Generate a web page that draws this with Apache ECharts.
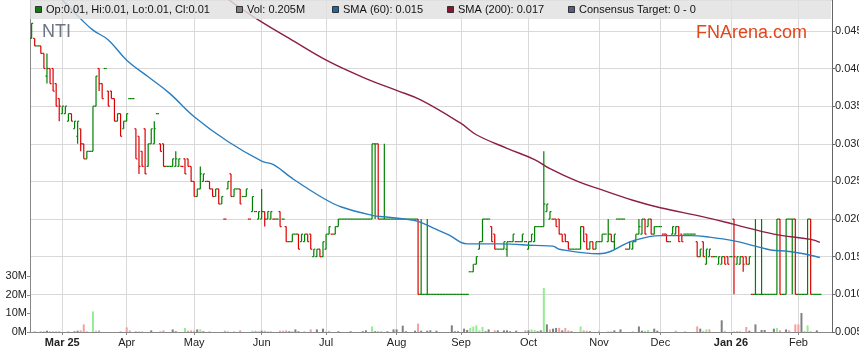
<!DOCTYPE html>
<html><head><meta charset="utf-8">
<script src="https://cdn.jsdelivr.net/npm/echarts@6/dist/echarts.min.js"></script>
<style>html,body{margin:0;padding:0;background:#fff}#c{width:859px;height:363px}</style>
</head><body><div id="c"></div><script>
// x position = weekday index counted from Mon 3 Mar 2025 (index 0)
const FIRST_DAY = -10; // Mon 17 Feb 2025
// [open, high, low, close] one entry per weekday from FIRST_DAY
const ohlc = [
[.044,.046,.044,.046],[.044,.044,.043,.043],[.043,.043,.043,.043],[.043,.043,.042,.042],[.042,.042,.040,.040],
[.039,.042,.038,.040],[.040,.040,.038,.038],[.040,.040,.037,.037],[.038,.038,.035,.035],[.036,.036,.033,.035],
// 0
[.034,.035,.034,.035],[.034,.035,.034,.035],[.033,.034,.033,.034],[.034,.034,.033,.033],[.032,.033,.032,.033],
[.031,.033,.030,.033],[.032,.032,.029,.030],[.030,.030,.028,.028],[.028,.029,.028,.029],[.029,.029,.029,.029],
// 10
[.029,.035,.029,.035],[.035,.039,.035,.039],[.040,.040,.037,.038],[.038,.038,.036,.036],[.040,.040,.040,.040],
[.037,.037,.035,.035],[.037,.037,.036,.036],[.036,.036,.033,.033],[.033,.034,.033,.034],[.034,.034,.031,.031],
// 20
[.032,.033,.032,.033],[.033,.034,.033,.034],[.036,.036,.036,.036],[.036,.036,.036,.036],[.032,.032,.028,.028],
[.031,.031,.026,.027],[.029,.029,.027,.027],[.032,.032,.026,.026],[.027,.030,.027,.030],[.030,.032,.030,.032],
// 30
[.030,.033,.030,.032],[.034,.034,.034,.034],[.030,.030,.029,.029],[.030,.030,.027,.027],[.027,.027,.027,.027],
[.027,.027,.027,.027],[.027,.028,.027,.028],[.027,.029,.027,.028],[.027,.028,.027,.028],[.027,.027,.027,.027],
// 40
[.028,.028,.026,.026],[.028,.028,.027,.027],[.027,.027,.025,.025],[.025,.025,.023,.023],[.023,.024,.023,.024],
[.024,.027,.024,.026],[.025,.026,.025,.026],[.025,.025,.025,.025],[.025,.025,.024,.024],[.024,.024,.023,.023],
// 50
[.023,.024,.023,.024],[.024,.024,.022,.022],[.022,.023,.022,.023],[.020,.020,.020,.020],[.024,.025,.024,.025],
[.026,.026,.023,.023],[.023,.024,.023,.024],[.024,.024,.024,.024],[.024,.024,.022,.022],[.023,.023,.023,.023],
// 60
[.023,.024,.023,.024],[.020,.020,.020,.020],[.021,.023,.021,.023],[.021,.021,.021,.021],[.020,.021,.020,.021],
[.020,.024,.020,.021],[.021,.021,.019,.020],[.020,.021,.020,.021],[.020,.021,.020,.021],[.020,.020,.020,.020],
// 70
[.020,.020,.020,.020],[.021,.021,.019,.019],[.020,.020,.020,.020],[.019,.019,.017,.017],[.017,.017,.017,.017],
[.017,.018,.017,.018],[.018,.018,.018,.018],[.018,.018,.016,.016],[.017,.018,.017,.018],[.017,.018,.017,.018],
// 80
[.018,.018,.017,.017],[.018,.018,.016,.016],[.015,.016,.015,.016],[.015,.016,.015,.016],[.016,.016,.015,.015],
[.015,.017,.015,.017],[.016,.018,.016,.018],[.018,.019,.018,.019],[.018,.018,.018,.018],[.018,.019,.018,.019],
// 90
[.019,.020,.019,.020],[.020,.020,.020,.020],[.020,.020,.020,.020],[.020,.020,.020,.020],[.020,.020,.020,.020],
[.020,.020,.020,.020],[.020,.020,.020,.020],[.020,.020,.020,.020],[.020,.020,.020,.020],[.020,.020,.020,.020],
// 100
[.020,.020,.020,.020],[.020,.030,.020,.030],[.030,.030,.020,.030],[.030,.030,.020,.020],[.020,.020,.020,.020],
[.020,.030,.020,.020],[.020,.020,.020,.020],[.020,.020,.020,.020],[.020,.020,.020,.020],[.020,.020,.020,.020],
// 110
[.020,.020,.020,.020],[.020,.020,.020,.020],[.020,.020,.020,.020],[.020,.020,.020,.020],[.020,.020,.020,.020],
[.020,.020,.020,.020],[.020,.020,.010,.010],[.010,.020,.010,.010],[.010,.010,.010,.010],[.010,.020,.010,.010],
// 120
[.010,.010,.010,.010],[.010,.010,.010,.010],[.010,.010,.010,.010],[.010,.010,.010,.010],[.010,.010,.010,.010],
[.010,.010,.010,.010],[.010,.010,.010,.010],[.010,.010,.010,.010],[.010,.010,.010,.010],[.010,.010,.010,.010],
// 130
[.010,.010,.010,.010],[.010,.010,.010,.010],[.010,.010,.010,.010],[.013,.013,.013,.013],[.013,.014,.013,.014],
[.014,.015,.014,.015],[.016,.017,.016,.017],[.017,.020,.017,.020],[.020,.020,.020,.020],[.020,.020,.020,.020],
// 140
[.019,.019,.017,.017],[.018,.018,.016,.016],[.016,.016,.016,.016],[.016,.016,.016,.016],[.016,.017,.016,.017],
[.016,.017,.015,.017],[.017,.017,.017,.017],[.017,.018,.017,.018],[.017,.017,.017,.017],[.017,.017,.017,.017],
// 150
[.017,.018,.017,.018],[.017,.017,.017,.017],[.016,.017,.016,.017],[.017,.018,.017,.018],[.017,.019,.017,.019],
[.019,.019,.019,.019],[.019,.019,.019,.019],[.019,.029,.019,.022],[.021,.022,.021,.022],[.020,.021,.020,.021],
// 160
[.020,.020,.020,.020],[.020,.020,.019,.019],[.020,.020,.018,.018],[.018,.018,.017,.017],[.018,.018,.017,.017],
[.017,.017,.016,.016],[.016,.016,.016,.016],[.016,.016,.016,.016],[.016,.016,.016,.016],[.016,.019,.016,.019],
// 170
[.019,.019,.017,.017],[.018,.018,.016,.016],[.016,.017,.016,.017],[.017,.017,.016,.016],[.016,.017,.016,.017],
[.017,.017,.017,.017],[.017,.018,.017,.018],[.018,.018,.018,.018],[.017,.020,.017,.018],[.018,.018,.017,.017],
// 180
[.017,.018,.016,.018],[.020,.020,.020,.020],[.020,.020,.020,.020],[.020,.020,.020,.020],[.016,.016,.016,.016],
[.016,.017,.016,.017],[.016,.017,.016,.017],[.017,.018,.017,.018],[.018,.020,.018,.019],[.018,.020,.018,.020],
// 190
[.020,.020,.018,.018],[.019,.020,.019,.020],[.020,.020,.018,.018],[.018,.019,.018,.019],[.019,.019,.019,.019],
[.019,.019,.019,.019],[.018,.018,.018,.018],[.018,.018,.017,.017],[.017,.017,.017,.017],[.018,.019,.018,.019],
// 200
[.018,.019,.018,.019],[.019,.019,.017,.017],[.018,.018,.017,.017],[.018,.018,.018,.018],[.018,.018,.018,.018],
[.018,.018,.018,.018],[.018,.018,.018,.018],[.017,.017,.015,.015],[.015,.016,.015,.016],[.017,.017,.015,.015],
// 210
[.014,.016,.014,.016],[.015,.016,.015,.016],[.015,.015,.015,.015],[.015,.015,.015,.015],[.014,.015,.014,.015],
[.014,.015,.014,.015],[.015,.015,.014,.014],[.015,.015,.014,.014],[.015,.015,.015,.015],[.020,.020,.010,.015],
// 220
[.014,.015,.014,.015],[.014,.015,.014,.015],[.015,.015,.013,.014],[.015,.015,.014,.014],[.014,.015,.014,.015],
[.010,.010,.010,.010],[.010,.020,.010,.010],[.010,.010,.010,.010],[.010,.020,.010,.010],[.010,.010,.010,.010],
// 230
[.010,.010,.010,.010],[.010,.010,.010,.010],[.010,.010,.010,.010],[.010,.020,.010,.020],[.020,.020,.010,.010],
[.010,.010,.010,.010],[.010,.020,.010,.020],[.020,.020,.020,.020],[.020,.020,.010,.020],[.020,.020,.010,.010],
// 240
[.010,.010,.010,.010],[.010,.010,.010,.010],[.010,.010,.010,.010],[.010,.020,.010,.020],[.020,.020,.010,.010],
[.010,.010,.010,.010],[.010,.010,.010,.010],[.010,.010,.010,.010]
];
// [day index, volume in millions, direction 1 up / -1 down / 0 unchanged]
const volumes = [[-9,.4,-1],[-7,.4,-1],[-6,.4,-1],[-5,.7,0],[-4,.4,-1],[-3,.4,-1],[-2,.4,-1],[-1,.4,-1],[2,.4,-1],[4,.4,0],[5,.7,0],[6,.9,-1],[7,4.1,-1],[8,.4,1],[10,11.1,1],[11,.7,1],[12,.9,-1],[19,.4,-1],[21,2.5,-1],[22,.9,-1],[24,.4,-1],[25,.4,1],[26,.4,1],[29,.9,0],[32,.4,-1],[33,.9,-1],[36,1.4,0],[37,.4,0],[40,2.2,1],[41,.7,-1],[42,.9,-1],[43,.7,-1],[44,1.4,0],[45,1.4,1],[46,.4,0],[48,.4,-1],[53,.7,-1],[54,.4,1],[56,.4,1],[58,.9,-1],[62,.7,1],[63,.7,-1],[64,.4,-1],[65,.7,0],[66,.7,-1],[67,.4,1],[68,.4,1],[71,.7,-1],[72,.7,-1],[73,.9,-1],[74,.4,0],[75,.4,1],[76,1.4,0],[77,.4,0],[79,.4,1],[81,1.4,-1],[83,1.4,0],[85,1.8,0],[86,.4,1],[87,.7,1],[90,.4,0],[94,.4,0],[98,.4,0],[99,.9,0],[101,3.0,1],[102,.4,0],[103,.4,-1],[104,.4,-1],[106,.4,0],[108,1.4,0],[109,1.4,0],[111,3.4,0],[112,.4,0],[115,.7,0],[116,4.5,-1],[117,.7,0],[119,.7,0],[120,.9,0],[122,.7,0],[127,3.6,0],[128,.4,0],[129,.4,0],[131,1.8,0],[132,1.1,0],[133,2.2,1],[134,2.9,1],[135,3.6,1],[136,.9,1],[137,2.7,1],[138,.4,0],[139,1.4,0],[141,.9,-1],[142,.9,0],[144,.9,0],[145,.9,0],[146,.4,0],[148,.7,0],[151,.9,-1],[152,.9,0],[153,1.4,1],[154,1.1,1],[155,.4,0],[156,.9,0],[157,23.7,1],[158,4.1,0],[159,1.4,-1],[160,1.8,0],[161,2.2,0],[162,2.2,-1],[163,.9,0],[164,2.2,-1],[165,.9,-1],[166,.4,0],[169,3.0,1],[170,.9,-1],[171,.7,-1],[172,.4,0],[175,.7,1],[178,.4,1],[179,.4,1],[180,.9,0],[182,1.4,0],[186,.4,1],[188,3.0,0],[189,.7,0],[190,.7,1],[191,1.1,1],[193,1.8,0],[194,.7,0],[200,.7,-1],[203,.4,1],[207,3.0,-1],[208,1.8,0],[209,.7,1],[210,1.4,1],[211,1.4,-1],[215,6.3,0],[216,.7,1],[219,.4,1],[220,.4,-1],[221,.4,-1],[223,2.7,-1],[224,.7,0],[226,4.1,0],[228,1.1,0],[229,1.1,0],[232,1.8,0],[233,2.2,1],[234,.9,-1],[236,1.4,0],[237,.9,-1],[239,4.1,-1],[240,4.1,-1],[241,10.2,0],[242,.4,-1],[243,3.6,1],[244,.4,-1],[246,.9,0]];
// moving averages read at [day index, value]
const sma60 = [[0,.0491],[6,.0466],[10,.0451],[15,.0438],[21,.0411],[28,.0389],[35,.0367],[43,.0336],[54,.0303],[65,.0277],[69,.0272],[75,.0254],[85,.0228],[91,.0216],[101,.0205],[105,.0203],[112,.0200],[116,.0197],[121,.0188],[126,.0179],[132,.0167],[143,.0167],[154,.0165],[160,.0164],[162,.0160],[175,.0154],[186,.0171],[195,.0178],[205,.0178],[211,.0176],[219,.0171],[226,.0164],[231,.0159],[237,.0157],[244,.0152],[247,.0149]];
const sma200 = [[54,.0492],[63,.0467],[74,.0440],[87,.0409],[100,.0385],[109,.0371],[117,.0358],[130,.0327],[135,.0312],[145,.0294],[154,.0279],[159,.0267],[168,.0250],[175,.0240],[186,.0225],[195,.0215],[209,.0203],[219,.0193],[232,.0180],[244,.0173],[247,.0169]];
const monthTickIdx = [0,21,43,65,86,109,130,152,175,195,218,240];
const monthTickLabels = ['Mar 25','Apr','May','Jun','Jul','Aug','Sep','Oct','Nov','Dec','Jan 26','Feb'];
const boldLabels = ['Mar 25','Jan 26'];
const volumeTicks = [0,10,20,30];
const legendItems = [
  ['Op:0.01, Hi:0.01, Lo:0.01, Cl:0.01','#0b7d0b'],
  ['Vol: 0.205M','#808080'],
  ['SMA (60): 0.015','#1c68ad'],
  ['SMA (200): 0.017','#8a1530'],
  ['Consensus Target: 0 - 0','#585c8c']
];
const legendX = [35, 236, 332, 447, 568];

const FONT = '"Liberation Sans", Arial, sans-serif';
const bars = ohlc.map((d, k) => {
  const prev = k ? ohlc[k - 1][3] : d[0];
  const up = d[3] > d[0] || (d[3] === d[0] && d[3] >= prev);
  return [FIRST_DAY + k, d[0], d[1], d[2], d[3], up ? 1 : 0];
});
const volColor = {'1': '#93ee93', '-1': '#f3a0a0', '0': '#808080'};
const volData = volumes.map(v => ({value: [v[0], v[1]], itemStyle: {color: volColor[String(v[2])]}}));

function renderOHLC(params, api) {
  const x = api.value(0);
  const pO = api.coord([x, api.value(1)]);
  const pH = api.coord([x, api.value(2)]);
  const pL = api.coord([x, api.value(3)]);
  const pC = api.coord([x, api.value(4)]);
  const w = api.coord([x + 0.5, api.value(1)])[0] - pO[0];
  const style = {stroke: api.value(5) ? '#008000' : '#dd0000', lineWidth: 1.2};
  return {type: 'group', children: [
    {type: 'line', shape: {x1: pH[0], y1: pH[1], x2: pL[0], y2: pL[1]}, style},
    {type: 'line', shape: {x1: pO[0] - w, y1: pO[1], x2: pO[0], y2: pO[1]}, style},
    {type: 'line', shape: {x1: pC[0], y1: pC[1], x2: pC[0] + w, y2: pC[1]}, style}
  ]};
}

const legendGraphics = [{type: 'rect', shape: {x: 30, y: 0, width: 801, height: 19}, style: {fill: '#e0e0e0', opacity: 0.82}, z: 100}];
legendItems.forEach((it, k) => {
  legendGraphics.push({type: 'rect', shape: {x: legendX[k] + 0.5, y: 6.5, width: 6, height: 6}, style: {fill: it[1], stroke: '#333', lineWidth: 1}, z: 101});
  legendGraphics.push({type: 'text', x: legendX[k] + 11, y: 10, style: {text: it[0], fill: '#111', font: '11px ' + FONT, verticalAlign: 'middle'}, z: 101});
});
legendGraphics.push({type: 'text', x: 42, y: 32, style: {text: 'NTI', fill: '#6b7480', font: '18px ' + FONT, verticalAlign: 'middle'}, z: 101});
legendGraphics.push({type: 'text', x: 807, y: 33, style: {text: 'FNArena.com', fill: '#e2461c', font: '18px ' + FONT, align: 'right', verticalAlign: 'middle'}, z: 101});

const chart = echarts.init(document.getElementById('c'), null, {renderer: 'canvas'});
chart.setOption({
  animation: false,
  backgroundColor: '#fff',
  grid: {left: 30, right: 27, top: 0, bottom: 31, containLabel: false, outerBoundsMode: 'none'},
  xAxis: {
    type: 'value', min: -10.53, max: 250.96,
    axisLine: {onZero: false, lineStyle: {color: '#888'}},
    axisTick: {show: true, length: 3, customValues: monthTickIdx, lineStyle: {color: '#888'}},
    axisLabel: {
      customValues: monthTickIdx, margin: 5, color: '#222', fontSize: 11, fontFamily: FONT,
      formatter: v => { const s = monthTickLabels[monthTickIdx.indexOf(v)] || ''; return boldLabels.includes(s) ? '{b|' + s + '}' : s; },
      rich: {b: {fontWeight: 'bold', fontSize: 11, fontFamily: FONT, color: '#222'}}
    },
    splitLine: {show: true, lineStyle: {color: '#d9d9d9'}}
  },
  yAxis: [{
    type: 'value', position: 'right', min: 0.005, max: 0.0491, interval: 0.005,
    axisLine: {show: true, onZero: false, lineStyle: {color: '#666'}},
    axisTick: {show: true, length: 3, lineStyle: {color: '#666'}},
    axisLabel: {showMaxLabel: false, margin: 3, color: '#222', fontSize: 11, fontFamily: FONT, formatter: v => v.toFixed(3)},
    splitLine: {show: true, lineStyle: {color: '#d9d9d9'}}
  }, {
    type: 'value', position: 'left', min: 0, max: 178.8, interval: 10,
    axisLine: {show: true, onZero: false, lineStyle: {color: '#888'}},
    axisTick: {show: true, length: 3, customValues: volumeTicks, lineStyle: {color: '#888'}},
    axisLabel: {customValues: volumeTicks, margin: 3, color: '#222', fontSize: 11, fontFamily: FONT, formatter: v => v + 'M'},
    splitLine: {show: false}
  }],
  series: [
    {type: 'bar', yAxisIndex: 1, barWidth: 2, data: volData, z: 1, silent: true},
    {type: 'custom', yAxisIndex: 0, renderItem: renderOHLC, data: bars, z: 2, clip: true, silent: true},
    {type: 'line', yAxisIndex: 0, data: sma60, showSymbol: false, smooth: 0.4, lineStyle: {color: '#2a7ec0', width: 1.4}, z: 3, clip: true, silent: true},
    {type: 'line', yAxisIndex: 0, data: sma200, showSymbol: false, smooth: 0.4, lineStyle: {color: '#8c1f45', width: 1.4}, z: 3, clip: true, silent: true}
  ],
  graphic: legendGraphics
});
</script></body></html>
